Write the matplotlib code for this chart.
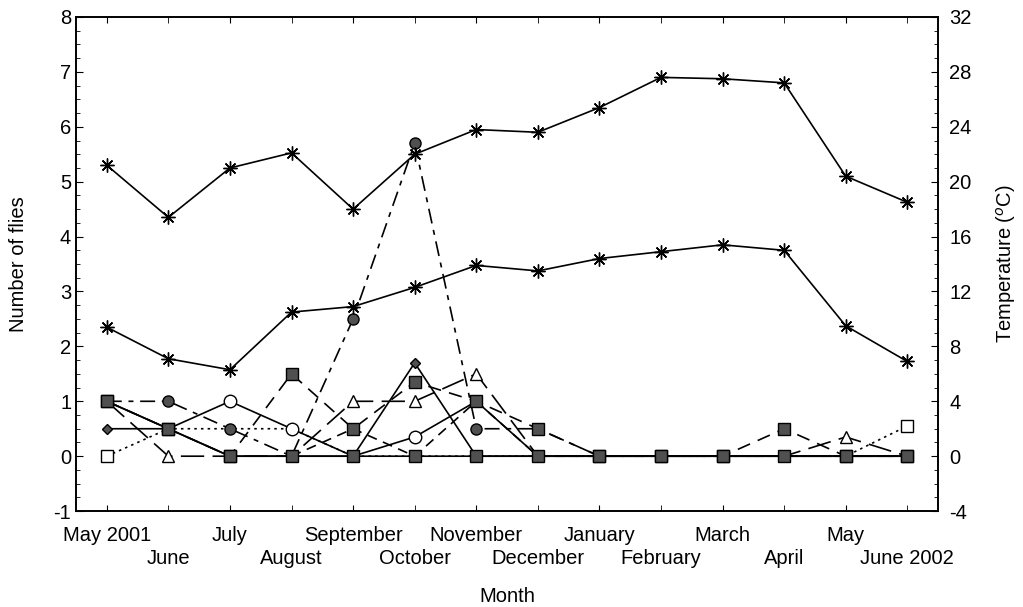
import numpy as np
import matplotlib
matplotlib.use("Agg")
import matplotlib.pyplot as plt
from matplotlib.ticker import MultipleLocator, FixedLocator, FixedFormatter

plt.rcParams["font.family"] = ["Liberation Sans", "DejaVu Sans"]
plt.rcParams["axes.unicode_minus"] = False

months = ["May 2001", "June", "July", "August", "September", "October", "November",
          "December", "January", "February", "March", "April", "May", "June 2002"]

# flies per sampling month, one list per species
flies_base = [1, 0.5, 0, 0, 0, 0, 0, 0, 0, 0, 0, 0, 0, 0]
flies_sq_a = [1, 0.5, 0, 1.5, 0.5, 1.35, 1.0, 0.5, 0, 0, 0, 0.5, 0, 0]
flies_sq_b = [np.nan, np.nan, np.nan, 0, 0.5, 0, 1.0, 0, 0, 0, 0, 0, 0, 0]
flies_circle = [1, 1, 0.5, 0, 2.5, 5.7, 0.5, 0.5, 0, 0, 0, 0, 0, 0]
flies_open_circle = [1, 0.5, 1, 0.5, 0, 0.35, 1.0, 0, 0, 0, 0, 0, 0, 0]
flies_diamond = [0.5, 0.5, 0, 0, 0, 1.7, 0, 0, 0, 0, 0, 0, 0, 0]
flies_triangle = [1, 0, 0, 0, 1, 1, 1.5, 0, 0, 0, 0, 0, 0.35, 0]
flies_open_sq = [0, 0.5, 0.5, 0.5, 0, 0, 0, 0, 0, 0, 0, 0, 0, 0.55]

# monthly temperatures (deg C)
temp_max = [21.2, 17.4, 21.0, 22.1, 18.0, 22.0, 23.8, 23.6, 25.4, 27.6, 27.5, 27.2, 20.4, 18.5]
temp_min = [9.4, 7.1, 6.3, 10.5, 10.9, 12.3, 13.9, 13.5, 14.4, 14.9, 15.4, 15.0, 9.5, 6.9]

x = np.arange(len(months))
fill = "#505050"
fs = 14.5

fig = plt.figure(figsize=(10.23, 6.07), dpi=100)
ax = fig.add_axes([0.0743, 0.158, 0.8427, 0.814])
ax2 = ax.twinx()

lw = 1.2
ax.plot(x, flies_open_sq, color="k", lw=lw, dashes=(1.5, 2.5), marker="s", ms=8,
        mfc="white", mec="k", markevery=[0, 13], zorder=2)
ax.plot(x, flies_open_circle, color="k", lw=lw, marker="o", ms=9, mfc="white", mec="k",
        markevery=[2, 3, 5], zorder=3)
ax.plot(x, flies_diamond, color="k", lw=lw, marker="D", ms=5.5, mfc=fill, mec="k",
        markevery=[0, 5], zorder=3)
ax.plot(x, flies_triangle, color="k", lw=lw, dashes=(14, 5), marker="^", ms=9, mfc="white",
        mec="k", markevery=[1, 4, 5, 6, 12], zorder=3)
ax.plot(x, flies_circle, color="k", lw=lw, dashes=(9, 4, 3, 4), marker="o", ms=8, mfc=fill,
        mec="k", markevery=[1, 2, 4, 5, 6], zorder=4)
ax.plot(x, flies_sq_b, color="k", lw=lw, dashes=(6, 4), marker="s", ms=7, mfc=fill, mec="k", zorder=5)
ax.plot(x, flies_sq_a, color="k", lw=lw, dashes=(8, 5), marker="s", ms=8, mfc=fill, mec="k", zorder=5)
ax.plot(x, flies_base, color="k", lw=lw, marker="s", ms=8, mfc=fill, mec="k", zorder=5)

asterisk = (8, 2, 0)
ax2.plot(x, temp_max, color="k", lw=lw, marker=asterisk, ms=10, mew=1.0)
ax2.plot(x, temp_min, color="k", lw=lw, marker=asterisk, ms=10, mew=1.0)

ax.set_xlim(-0.5, 13.5)
ax.set_ylim(-1, 8)
ax2.set_ylim(-4, 32)
ax.yaxis.set_major_locator(MultipleLocator(1))
ax.yaxis.set_minor_locator(MultipleLocator(0.25))
ax2.yaxis.set_major_locator(MultipleLocator(4))
ax2.yaxis.set_minor_locator(MultipleLocator(1))

# month names alternate between two rows
ax.xaxis.set_major_locator(FixedLocator(x[::2]))
ax.xaxis.set_major_formatter(FixedFormatter(months[::2]))
ax.xaxis.set_minor_locator(FixedLocator(x[1::2]))
ax.xaxis.set_minor_formatter(FixedFormatter(months[1::2]))

ax.tick_params(axis="both", which="both", direction="in", top=True, labelsize=fs)
ax.tick_params(axis="x", which="major", length=4, pad=11)
ax.tick_params(axis="x", which="minor", length=4, pad=27)
ax.tick_params(axis="y", which="major", length=5)
ax.tick_params(axis="y", which="minor", length=3)
ax2.tick_params(axis="y", which="both", direction="in", labelsize=fs)
ax2.tick_params(axis="y", which="major", length=5, pad=8)
ax2.tick_params(axis="y", which="minor", length=3)

for a in (ax, ax2):
    for s in a.spines.values():
        s.set_linewidth(1.2)

ax.set_ylabel("Number of flies", fontsize=fs, labelpad=18)
ax2.set_ylabel("Temperature ($^o$C)", fontsize=fs, labelpad=16)
ax.set_xlabel("Month", fontsize=fs, labelpad=14)

fig.savefig("out.png", dpi=100)
